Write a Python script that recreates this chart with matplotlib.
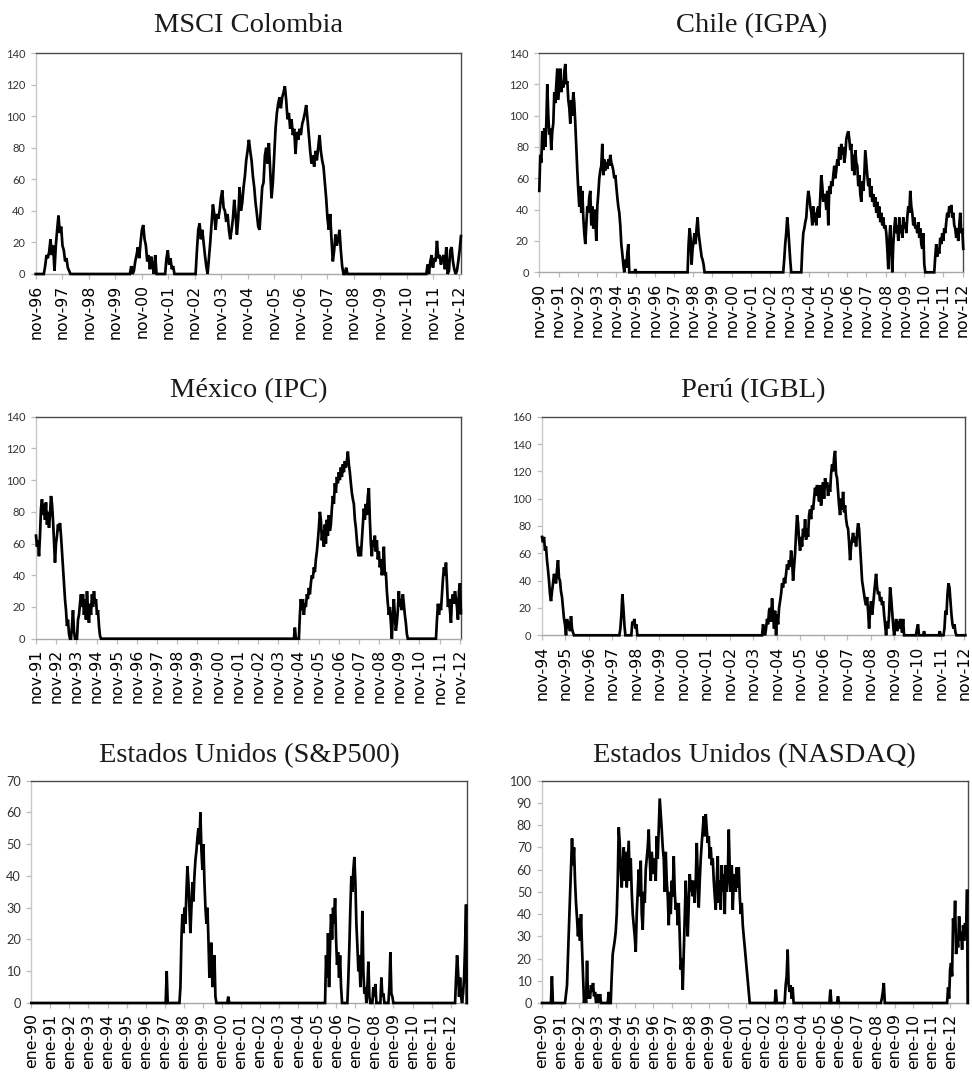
import matplotlib
matplotlib.use("Agg")
import matplotlib.pyplot as plt
import numpy as np

# ---------------- tick labels ----------------
nov_labels = ['nov-90', 'nov-91', 'nov-92', 'nov-93', 'nov-94', 'nov-95', 'nov-96', 'nov-97',
              'nov-98', 'nov-99', 'nov-00', 'nov-01', 'nov-02', 'nov-03', 'nov-04', 'nov-05',
              'nov-06', 'nov-07', 'nov-08', 'nov-09', 'nov-10', 'nov-11', 'nov-12']
nov_years = [1990.833 + k for k in range(23)]
ene_labels = ['ene-90', 'ene-91', 'ene-92', 'ene-93', 'ene-94', 'ene-95', 'ene-96', 'ene-97',
              'ene-98', 'ene-99', 'ene-00', 'ene-01', 'ene-02', 'ene-03', 'ene-04', 'ene-05',
              'ene-06', 'ene-07', 'ene-08', 'ene-09', 'ene-10', 'ene-11', 'ene-12']
ene_years = [1990.0 + k for k in range(23)]

# ---------------- MSCI Colombia ----------------
col_start, col_end, col_step = 1996.833, 2012.89, 0.0503
col_seg_t0 = [1997.14, 2000.39, 2001.72, 2002.87, 2011.58]
col_seg_v = [
    [0, 5, 12, 10, 14, 22, 12, 18, 2, 18, 28, 37, 26, 30, 18, 15, 8, 10, 4, 2, 0],
    [0, 5, 0, 2, 8, 12, 17, 10, 20, 28, 31, 22, 18, 8, 12, 3, 11, 5, 0, 12, 0],
    [0, 10, 15, 6, 10, 3, 5, 0],
    [0, 15, 28, 32, 22, 28, 20, 12, 5, 0, 10, 20, 32, 44, 38, 28, 38, 35, 40, 48,
     53, 42, 40, 33, 38, 28, 22, 28, 35, 47, 38, 25, 35, 55, 40, 45, 55, 62, 72, 78,
     85, 78, 72, 62, 55, 45, 38, 30, 28, 42, 55, 58, 75, 80, 70, 83, 65, 48, 58, 75,
     92, 102, 108, 112, 105, 112, 115, 119, 110, 98, 102, 92, 98, 88, 92, 76, 90, 85, 92, 88,
     95, 98, 102, 107, 98, 88, 78, 70, 75, 68, 78, 72, 80, 88, 78, 72, 68, 58, 48, 35,
     28, 38, 22, 8, 15, 25, 18, 22, 28, 15, 5, 0, 0, 4, 0],
    [0, 6, 0, 8, 12, 4, 10, 8, 21, 10, 12, 6, 10, 12, 3, 17, 0, 2, 15, 17,
     8, 3, 0, 2, 8, 15, 24],
]

# ---------------- Chile (IGPA) ----------------
chi_start, chi_end, chi_step = 1990.833, 2012.87, 0.05197
chi_seg_t0 = [1990.833, 1998.54, 2003.51, 2004.45, 2011.36]
chi_seg_v = [
    [52, 75, 70, 90, 78, 92, 80, 95, 120, 100, 88, 92, 78, 90, 95, 115, 108, 120, 130, 110,
     120, 130, 115, 122, 118, 128, 133, 120, 122, 110, 105, 95, 110, 100, 115, 108, 95, 80, 65, 52,
     42, 55, 38, 52, 35, 25, 18, 30, 42, 38, 48, 52, 30, 42, 28, 40, 35, 20, 42, 50,
     60, 65, 68, 82, 62, 72, 65, 70, 66, 72, 68, 75, 70, 68, 65, 60, 62, 55, 48, 42,
     38, 30, 18, 12, 5, 0, 8, 3, 12, 18, 0, 0, 0, 0, 0, 0, 2, 0],
    [0, 18, 28, 22, 5, 15, 20, 25, 18, 28, 35, 25, 20, 15, 10, 8, 5, 0],
    [0, 8, 18, 25, 35, 28, 18, 8, 0],
    [0, 15, 25, 28, 32, 35, 45, 52, 48, 42, 38, 30, 42, 32, 38, 30, 40, 42, 35, 48,
     62, 55, 45, 50, 48, 40, 52, 30, 55, 50, 58, 55, 62, 68, 60, 65, 72, 68, 80, 72,
     82, 75, 80, 70, 75, 85, 88, 90, 85, 78, 82, 65, 75, 62, 78, 70, 68, 55, 62, 50,
     45, 58, 52, 62, 78, 70, 62, 55, 60, 48, 55, 45, 50, 42, 48, 38, 45, 35, 42, 32,
     38, 30, 35, 28, 30, 25, 15, 2, 20, 30, 15, 0, 18, 28, 35, 25, 30, 20, 35, 25,
     30, 22, 35, 28, 32, 25, 35, 42, 38, 52, 42, 38, 30, 35, 28, 30, 25, 32, 22, 28,
     18, 15, 25, 5, 0],
    [0, 10, 18, 10, 15, 12, 22, 18, 25, 20, 28, 25, 32, 38, 35, 42, 38, 43, 35, 38,
     30, 28, 22, 28, 20, 30, 38, 25, 28, 15],
]

# ---------------- México (IPC) ----------------
mex_start, mex_end, mex_step = 1991.833, 2012.89, 0.04953
mex_seg_t0 = [1991.833, 2004.61, 2011.65]
mex_seg_v = [
    [65, 58, 62, 52, 65, 82, 88, 78, 85, 75, 86, 72, 80, 70, 78, 90, 85, 75, 62, 48,
     60, 65, 72, 68, 73, 65, 55, 45, 35, 25, 18, 8, 12, 3, 0, 0, 8, 18, 5, 0,
     0, 0, 12, 15, 22, 28, 20, 28, 15, 25, 12, 30, 18, 10, 22, 15, 28, 20, 30, 22,
     25, 15, 18, 8, 2, 0],
    [0, 7, 0, 0, 0, 0, 15, 25, 18, 25, 15, 22, 20, 28, 25, 32, 28, 35, 40, 38,
     45, 42, 50, 55, 62, 70, 80, 75, 62, 68, 58, 72, 60, 75, 65, 78, 68, 72, 82, 90,
     85, 98, 92, 102, 98, 105, 100, 108, 102, 110, 105, 112, 108, 112, 118, 110, 105, 98, 92, 88,
     85, 75, 70, 62, 55, 52, 58, 52, 62, 72, 82, 75, 85, 78, 90, 95, 75, 60, 52, 62,
     58, 65, 55, 62, 50, 55, 45, 50, 40, 45, 58, 40, 42, 30, 22, 15, 20, 10, 0, 15,
     25, 15, 5, 10, 18, 30, 20, 25, 18, 28, 22, 15, 10, 3, 0],
    [0, 12, 22, 15, 22, 18, 28, 38, 45, 40, 48, 35, 20, 25, 18, 10, 25, 28, 22, 30,
     25, 20, 12, 30, 35, 16],
]

# ---------------- Perú (IGBL) ----------------
per_start, per_end, per_step = 1994.833, 2012.87, 0.04262
per_seg_t0 = [1994.833, 1998.13, 1998.64, 2004.21, 2010.77, 2011.07, 2011.74, 2011.94]
per_seg_v = [
    [72, 68, 72, 62, 65, 55, 48, 40, 30, 25, 32, 38, 45, 42, 38, 48, 55, 42, 40, 32,
     28, 20, 12, 8, 0, 12, 5, 10, 3, 14, 5, 2, 0],
    [0, 5, 15, 30, 20, 8, 0],
    [0, 10, 8, 12, 5, 8, 0],
    [0, 8, 2, 0, 5, 12, 8, 18, 20, 10, 27, 15, 5, 18, 0, 15, 8, 20, 25, 30,
     38, 35, 42, 38, 45, 52, 48, 55, 50, 62, 55, 40, 50, 60, 75, 88, 82, 70, 62, 72,
     65, 78, 72, 85, 70, 78, 72, 88, 92, 85, 95, 92, 100, 108, 102, 110, 105, 98, 110, 95,
     105, 112, 100, 115, 108, 112, 102, 110, 105, 118, 125, 120, 130, 135, 118, 115, 105, 95, 88, 100,
     92, 105, 90, 95, 85, 80, 78, 68, 55, 65, 70, 75, 68, 72, 65, 75, 82, 78, 65, 52,
     40, 35, 30, 25, 22, 28, 18, 5, 18, 25, 15, 22, 30, 38, 45, 35, 30, 32, 25, 28,
     22, 25, 15, 8, 0, 10, 5, 15, 35, 28, 18, 8, 0, 5, 12, 3, 10, 5, 12, 8,
     2, 12, 0],
    [0, 5, 8, 0],
    [0, 3, 0],
    [0, 3, 0],
    [0, 5, 18, 15, 30, 38, 35, 25, 15, 8, 5, 8, 2, 0],
]

# ---------------- Estados Unidos (S&P500) ----------------
sp_start, sp_end, sp_step = 1990.0, 2012.84, 0.05247
sp_seg_t0 = [1997.05, 1997.77, 2000.28, 2005.41, 2006.58, 2012.23]
sp_seg_v = [
    [0, 10, 0],
    [0, 5, 20, 28, 22, 30, 25, 35, 43, 38, 30, 22, 30, 38, 32, 40, 45, 48, 52, 55,
     50, 60, 48, 42, 50, 38, 30, 25, 30, 20, 8, 15, 19, 5, 12, 15, 2, 0],
    [0, 2, 0],
    [0, 15, 8, 22, 5, 18, 28, 20, 30, 25, 33, 20, 12, 16, 8, 15, 5, 0],
    [0, 8, 18, 30, 40, 35, 42, 46, 38, 25, 18, 10, 15, 5, 12, 29, 10, 3, 5, 0,
     5, 13, 2, 0, 0, 0, 5, 2, 6, 0, 0, 0, 0, 0, 8, 2, 3, 0, 0, 0,
     0, 0, 5, 16, 3, 2, 0],
    [0, 8, 15, 10, 2, 8, 2, 0, 3, 8, 18, 31],
]

# ---------------- Estados Unidos (NASDAQ) ----------------
nas_start, nas_end, nas_step = 1990.0, 2012.93, 0.05388
nas_seg_t0 = [1990.48, 1991.24, 1993.54, 2002.54, 2003.07, 2005.48, 2005.89, 2008.25, 2011.82]
nas_seg_v = [
    [0, 12, 0],
    [0, 4, 8, 22, 35, 48, 60, 74, 62, 70, 55, 45, 38, 30, 38, 28, 40, 25, 12, 0,
     5, 0, 19, 2, 5, 2, 8, 5, 9, 3, 5, 0, 2, 4, 0, 4, 0],
    [0, 5, 0, 0, 12, 22, 25, 28, 32, 40, 55, 79, 72, 60, 52, 62, 70, 55, 68, 52,
     62, 73, 55, 65, 50, 40, 35, 30, 23, 40, 50, 60, 48, 64, 40, 33, 50, 45, 60, 65,
     70, 78, 65, 55, 68, 62, 58, 65, 55, 75, 65, 78, 92, 85, 78, 70, 65, 50, 68, 55,
     48, 35, 50, 40, 55, 48, 66, 50, 42, 45, 35, 45, 30, 15, 20, 6, 22, 38, 55, 40,
     30, 45, 58, 50, 55, 48, 55, 45, 55, 72, 58, 43, 55, 65, 72, 78, 84, 75, 85, 78,
     72, 75, 65, 70, 62, 65, 55, 48, 42, 55, 66, 45, 55, 42, 62, 50, 58, 40, 62, 50,
     55, 78, 60, 50, 62, 42, 55, 58, 50, 61, 52, 61, 48, 40, 45, 35, 30, 25, 20, 15,
     10, 5, 0],
    [0, 6, 0],
    [0, 8, 12, 24, 8, 5, 8, 2, 7, 0],
    [0, 6, 0],
    [0, 3, 0],
    [0, 2, 5, 9, 0],
    [0, 7, 2, 15, 18, 12, 38, 32, 46, 22, 30, 25, 39, 28, 32, 24, 35, 28, 36, 30, 51],
]


def build(start, end, step, seg_t0, seg_v):
    xs, ys = [], []
    if seg_t0[0] > start + 1e-6:
        xs.append(start)
        ys.append(0)
    for t0, vals in zip(seg_t0, seg_v):
        for i, v in enumerate(vals):
            xs.append(t0 + i * step)
            ys.append(v)
    if xs[-1] < end - 0.03:
        xs.append(end)
        ys.append(0)
    return np.array(xs), np.array(ys)


W, H = 972, 1078
fig = plt.figure(figsize=(W / 100, H / 100), dpi=100)
fig.patch.set_facecolor('white')

panels = [
    # title, data, (left, top, right, bottom) px, ymax, ystep, tick years, labels, pad, ylabsize
    ("MSCI Colombia", (col_start, col_end, col_step, col_seg_t0, col_seg_v),
     (35.7, 53, 461, 274), 140, 20, nov_years[6:], nov_labels[6:], 15, 8),
    ("Chile (IGPA)", (chi_start, chi_end, chi_step, chi_seg_t0, chi_seg_v),
     (539.3, 53, 963.3, 272.3), 140, 20, nov_years, nov_labels, 15, 8),
    ("México (IPC)", (mex_start, mex_end, mex_step, mex_seg_t0, mex_seg_v),
     (36, 416.7, 461, 638.7), 140, 20, nov_years[1:], nov_labels[1:], 14.4, 8),
    ("Perú (IGBL)", (per_start, per_end, per_step, per_seg_t0, per_seg_v),
     (542, 416.7, 965.3, 635.3), 160, 20, nov_years[4:], nov_labels[4:], 14.4, 8),
    ("Estados Unidos (S&P500)", (sp_start, sp_end, sp_step, sp_seg_t0, sp_seg_v),
     (31.3, 780.7, 466.7, 1003), 70, 10, ene_years, ene_labels, 13.7, 9.2),
    ("Estados Unidos (NASDAQ)", (nas_start, nas_end, nas_step, nas_seg_t0, nas_seg_v),
     (542, 780.7, 967.7, 1003), 100, 10, ene_years, ene_labels, 13.7, 9.2),
]

for title, data, box, ymax, ystep, tyears, tlabels, pad, ysz in panels:
    l, t, r, b = box
    ax = fig.add_axes([l / W, 1 - b / H, (r - l) / W, (b - t) / H])
    x, y = build(*data)
    ax.plot(x, y, color='black', lw=1.95, clip_on=False, zorder=3,
            solid_joinstyle='miter')
    ax.set_xlim(data[0], data[1])
    ax.set_ylim(0, ymax)
    ax.set_yticks(np.arange(0, ymax + 1, ystep))
    ax.set_yticklabels([str(v) for v in range(0, ymax + 1, ystep)],
                       fontfamily='Lato', fontsize=ysz, color='#333333')
    ax.set_xticks(tyears)
    ax.set_xticklabels(tlabels, rotation=90, fontfamily='DejaVu Sans',
                       fontsize=11.3, color='black')
    ax.spines['left'].set_color('#c8c8c8')
    ax.spines['bottom'].set_color('#a8a8a8')
    ax.spines['top'].set_color('#4a4a4a')
    ax.spines['right'].set_color('#4a4a4a')
    for s in ax.spines.values():
        s.set_linewidth(1.0)
    ax.tick_params(axis='both', color='#bdbdbd', length=3.5, width=0.9)
    ax.tick_params(axis='y', pad=4)
    ax.tick_params(axis='x', pad=4)
    ax.set_title(title, fontfamily='Liberation Serif', fontsize=20.5, pad=pad,
                 color='#1a1a1a')

fig.savefig('out.png', dpi=100, facecolor='white')
